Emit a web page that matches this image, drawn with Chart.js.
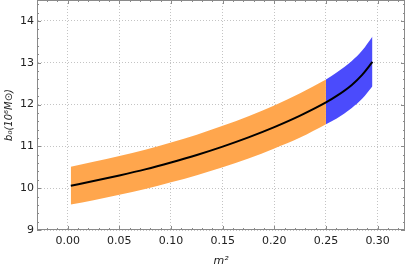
<!DOCTYPE html>
<html><head><meta charset="utf-8">
<script src="https://cdn.jsdelivr.net/npm/chart.js@4/dist/chart.umd.min.js"></script>
<style>html,body{margin:0;padding:0;background:#fff}#wrap{width:409px;height:268px}</style>
</head><body><div id="wrap"><canvas id="c" width="409" height="268"></canvas></div>
<script>
// m^2 sample positions
const m2All = [0.003, 0.025, 0.05, 0.075, 0.10, 0.125, 0.15, 0.175, 0.20, 0.225, 0.25, 0.26, 0.275, 0.285, 0.295];
const centerVals = [10.06, 10.17, 10.305, 10.45, 10.615, 10.795, 10.995, 11.215, 11.46, 11.735, 12.05, 12.20, 12.47, 12.71, 13.02];
// orange band (m^2 from 0.003 to 0.25)
const orangeM2 = [0.003, 0.025, 0.05, 0.075, 0.10, 0.125, 0.15, 0.175, 0.20, 0.225, 0.25];
const orangeUpper = [10.51, 10.63, 10.77, 10.92, 11.09, 11.28, 11.49, 11.72, 11.98, 12.27, 12.60];
const orangeLower = [9.61, 9.71, 9.84, 9.98, 10.14, 10.31, 10.50, 10.71, 10.95, 11.21, 11.53];
// blue band (m^2 from 0.25 to 0.295)
const blueM2 = [0.25, 0.26, 0.275, 0.285, 0.295];
const blueUpper = [12.60, 12.76, 13.04, 13.29, 13.63];
const blueLower = [11.53, 11.66, 11.92, 12.14, 12.44];
// ticks
const xTicks = [0.00, 0.05, 0.10, 0.15, 0.20, 0.25, 0.30];
const yTicks = [9, 10, 11, 12, 13, 14];
const xMinor = [-0.02,-0.01,0.01,0.02,0.03,0.04,0.06,0.07,0.08,0.09,0.11,0.12,0.13,0.14,0.16,0.17,0.18,0.19,0.21,0.22,0.23,0.24,0.26,0.27,0.28,0.29,0.31,0.32];
const yMinor = [9.2,9.4,9.6,9.8,10.2,10.4,10.6,10.8,11.2,11.4,11.6,11.8,12.2,12.4,12.6,12.8,13.2,13.4,13.6,13.8,14.2,14.4];

const pts = (xs, ys) => xs.map((x, i) => ({x: x, y: ys[i]}));
const ORANGE = 'rgb(255,166,77)';
const BLUE = 'rgb(75,75,252)';

const frameTicks = {
  id: 'frameTicks',
  afterDraw(chart) {
    const ctx = chart.ctx, a = chart.chartArea;
    const xs = chart.scales.x, ys = chart.scales.y;
    ctx.save();
    ctx.strokeStyle = '#8a8a8a';
    ctx.lineWidth = 1;
    ctx.strokeRect(a.left + 0.5, a.top + 0.5, a.right - a.left - 1, a.bottom - a.top - 1);
    ctx.beginPath();
    const tick = (vals, len, isX) => {
      vals.forEach(v => {
        if (isX) {
          const p = Math.round(xs.getPixelForValue(v)) + 0.5;
          ctx.moveTo(p, a.bottom); ctx.lineTo(p, a.bottom - len);
          ctx.moveTo(p, a.top); ctx.lineTo(p, a.top + len);
        } else {
          const p = Math.round(ys.getPixelForValue(v)) + 0.5;
          ctx.moveTo(a.left, p); ctx.lineTo(a.left + len, p);
          ctx.moveTo(a.right, p); ctx.lineTo(a.right - len, p);
        }
      });
    };
    tick(xTicks, 4, true); tick(xMinor, 2, true);
    tick(yTicks, 4, false); tick(yMinor, 2, false);
    ctx.stroke();
    ctx.restore();
  }
};

const bandStyle = {borderWidth: 0, borderColor: 'rgba(0,0,0,0)', pointRadius: 0, cubicInterpolationMode: 'monotone'};

new Chart(document.getElementById('c'), {
  type: 'line',
  data: {
    datasets: [
      {data: pts(m2All, centerVals), borderColor: '#000', borderWidth: 2, pointRadius: 0, fill: false, cubicInterpolationMode: 'monotone', order: 0},
      Object.assign({data: pts(orangeM2, orangeLower), fill: false, order: 2}, bandStyle),
      Object.assign({data: pts(orangeM2, orangeUpper), backgroundColor: ORANGE, fill: '-1', order: 2}, bandStyle),
      Object.assign({data: pts(blueM2, blueLower), fill: false, order: 1}, bandStyle),
      Object.assign({data: pts(blueM2, blueUpper), backgroundColor: BLUE, fill: '-1', order: 1}, bandStyle)
    ]
  },
  options: {
    responsive: false, animation: false, devicePixelRatio: 1,
    layout: {padding: {left: 3, right: 4, top: 0, bottom: 0}},
    plugins: {legend: {display: false}, tooltip: {enabled: false}},
    scales: {
      x: {
        type: 'linear', min: -0.0297, max: 0.3265,
        afterBuildTicks: s => { s.ticks = xTicks.map(v => ({value: v})); },
        afterFit: s => { s.height = 38; s.paddingLeft = 0; s.paddingRight = 0; },
        grid: {color: '#c4c4c4', lineWidth: 1, drawTicks: false},
        border: {display: true, color: 'rgba(0,0,0,0)', dash: [1, 2]},
        ticks: {color: '#222', font: {family: 'DejaVu Sans', size: 11}, padding: 5, maxRotation: 0,
          callback: v => v.toFixed(2)},
        title: {display: true, text: 'm²', color: '#222', font: {family: 'DejaVu Sans', size: 11, style: 'italic'}, padding: {top: 2, bottom: 0}}
      },
      y: {
        type: 'linear', min: 9, max: 14.5,
        afterBuildTicks: s => { s.ticks = yTicks.map(v => ({value: v})); },
        afterFit: s => { s.width = 34; s.paddingTop = 0; s.paddingBottom = 0; },
        grid: {color: '#c4c4c4', lineWidth: 1, drawTicks: false},
        border: {display: true, color: 'rgba(0,0,0,0)', dash: [1, 2]},
        ticks: {color: '#222', font: {family: 'DejaVu Sans', size: 11}, padding: 3,
          callback: v => String(v)},
        title: {display: true, text: 'b₀(10⁶M⊙)', color: '#222', font: {family: 'DejaVu Sans', size: 10, style: 'italic'}, padding: {top: 0, bottom: 1}}
      }
    }
  },
  plugins: [frameTicks]
});
</script></body></html>
